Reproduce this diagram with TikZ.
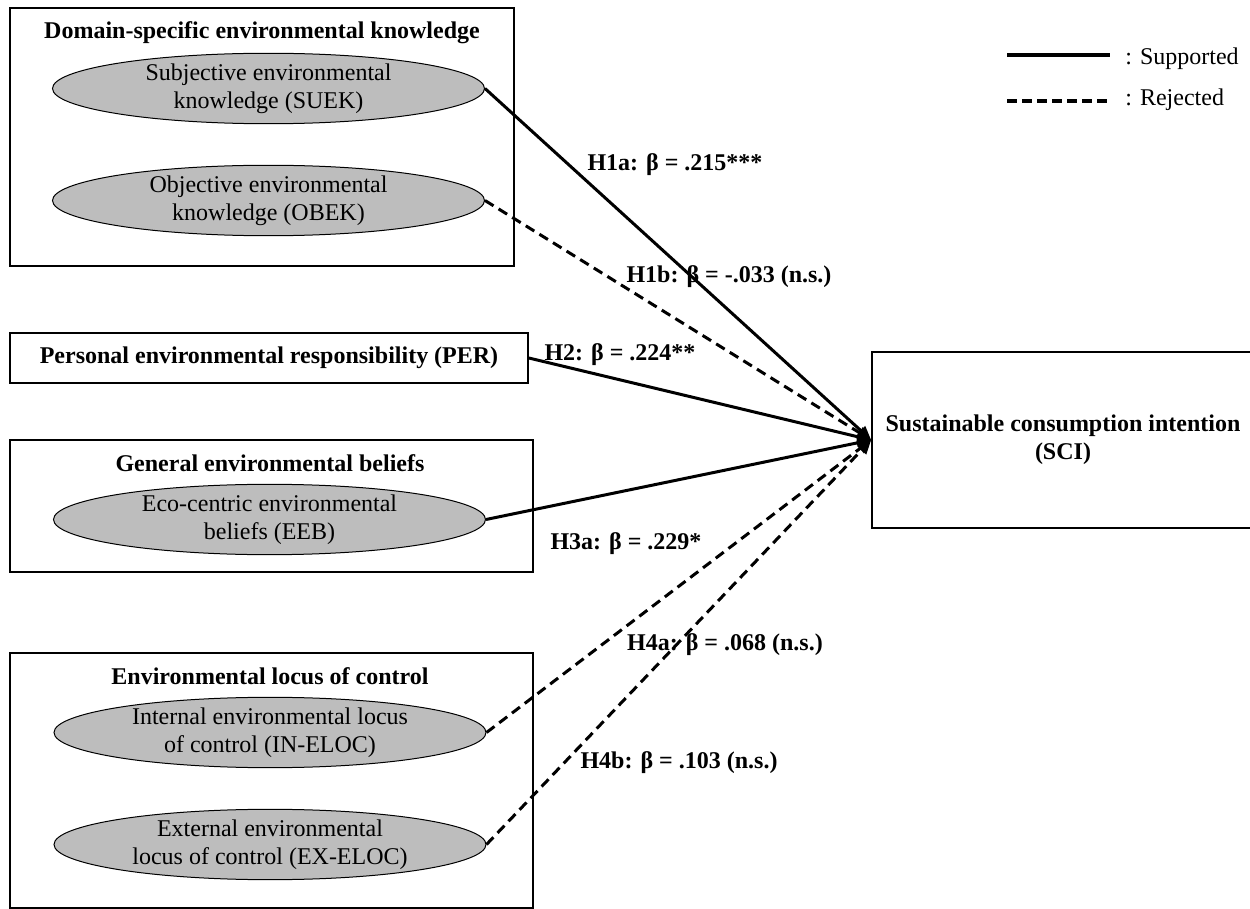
\documentclass[tikz,border=0pt]{standalone}
\usepackage{fontspec}
\setmainfont{Liberation Serif}
\usetikzlibrary{shapes.geometric,arrows.meta}
\begin{document}
\begin{tikzpicture}[x=0.5pt,y=-0.5pt,
    font=\fontsize{12}{14}\selectfont,
    frame/.style={draw, line width=0.8pt, inner sep=0pt},
    construct/.style={draw, ellipse, fill=black!26, line width=0.5pt,
        minimum width=216pt, minimum height=32pt, inner sep=0pt, align=center},
    heading/.style={font=\fontsize{12}{14}\selectfont\bfseries},
    hyp/.style={font=\fontsize{12}{14}\selectfont\bfseries, inner sep=1pt},
    supp/.style={line width=1.5pt, -{Triangle[length=7pt,width=6pt]}},
    rej/.style={supp, dash pattern=on 5pt off 3pt}]
    \useasboundingbox (0,0) rectangle (1250,909);
    \clip (0,0) rectangle (1250,909);
    % Group frames
    \node[frame, minimum width=252pt, minimum height=129pt] (dsek) at (262,137) {};
    \node[frame, minimum width=259pt, minimum height=25pt, heading] (per) at (269,358)
        {Personal environmental responsibility (PER)};
    \node[frame, minimum width=261.5pt, minimum height=66pt] (geb) at (271.5,506) {};
    \node[frame, minimum width=261.5pt, minimum height=127.5pt] (eloc) at (271.5,780.5) {};
    \node[frame, minimum width=191pt, minimum height=88pt, heading, align=center] (sci) at (1063,440)
        {Sustainable consumption intention\\(SCI)};
    % Headings
    \node[heading] (dsekt) at (262,33) {Domain-specific environmental knowledge};
    \node[heading] (gebt) at (270,463) {General environmental beliefs};
    \node[heading] (eloct) at (270,676) {Environmental locus of control};
    % Constructs
    \node[construct] (suek) at (268.5,88.5) {Subjective environmental\\knowledge (SUEK)};
    \node[construct] (obek) at (268.5,200.5) {Objective environmental\\knowledge (OBEK)};
    \node[construct] (eeb) at (269.5,519.5) {Eco-centric environmental\\beliefs (EEB)};
    \node[construct] (inel) at (270,732.5) {Internal environmental locus\\of control (IN-ELOC)};
    \node[construct] (exel) at (270,844.5) {External environmental\\locus of control (EX-ELOC)};
    % Paths
    \draw[supp] (suek.east) -- (sci.west);
    \draw[rej] (obek.east) -- (sci.west);
    \draw[supp] (per.east) -- (sci.west);
    \draw[supp] (eeb.east) -- (sci.west);
    \draw[rej] (inel.east) -- (sci.west);
    \draw[rej] (exel.east) -- (sci.west);
    % Path labels
    \node[hyp] (h1a) at (675,165) {H1a: β = .215***};
    \node[hyp] (h1b) at (729,277) {H1b: β = -.033 (n.s.)};
    \node[hyp] (h2) at (620,355) {H2: β = .224**};
    \node[hyp] (h3a) at (626,544) {H3a: β = .229*};
    \node[hyp] (h4a) at (725,645) {H4a: β = .068 (n.s.)};
    \node[hyp] (h4b) at (679,763) {H4b: β = .103 (n.s.)};
    % Legend
    \coordinate (sup1) at (1007,55);
    \coordinate (sup2) at (1110,55);
    \coordinate (rej1) at (1007,101);
    \coordinate (rej2) at (1110,101);
    \draw[line width=2pt] (sup1) -- (sup2);
    \draw[line width=2pt, dash pattern=on 5pt off 2.5pt] (rej1) -- (rej2);
    \node[anchor=west, inner sep=0pt] (suplab) at (1125,59) {: Supported};
    \node[anchor=west, inner sep=0pt] (rejlab) at (1125,100) {: Rejected};
\end{tikzpicture}
\end{document}
